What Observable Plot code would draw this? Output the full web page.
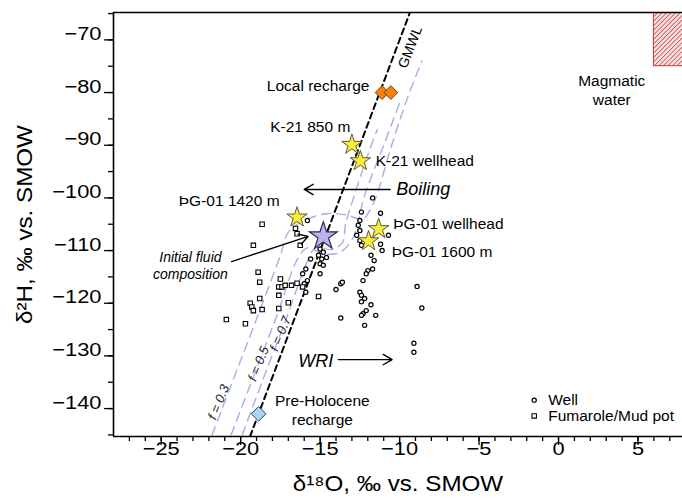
<!DOCTYPE html>
<html><head><meta charset="utf-8">
<script src="https://cdn.jsdelivr.net/npm/d3@7"></script>
<script src="https://cdn.jsdelivr.net/npm/@observablehq/plot@0.6"></script>
<style>
body{margin:0;background:#fff;}
#chart{width:682px;height:504px;}
svg text{font-family:"Liberation Sans",Arial,sans-serif;}
</style></head><body><div id="chart"></div>
<script>
// ---- data ----
const majorX = [-25, -20, -15, -10, -5, 0, 5];
const minorX = d3.range(-27, 8, 1);
const majorY = [-140, -130, -120, -110, -100, -90, -80, -70];
const minorY = d3.range(-145, -64, 5);

const wellO18 = [-15.0,-14.8,-15.1,-14.9,-14.6,-15.0,-14.8,-15.6,-15.9,-16.1,-15.0,-15.8,-16.0,-15.9,-14.0,-13.7,-13.6,-13.7,
  -12.5,-12.6,-12.5,-12.7,-12.5,-12.4,-11.8,-11.6,-11.7,-12.0,-12.1,-12.3,-12.5,-12.4,-12.2,-12.4,-11.8,-12.1,-12.3,-11.5,-12.2,
  -11.7,-12.4,-11.2,-10.7,-11.2,-11.1,-8.9,-8.6,-9.1,-9.1,-12.4,-15.8];
const wellH2 = [-109.7,-110.3,-110.9,-111.6,-111.3,-112.5,-112.8,-111.6,-113.5,-114.4,-114.4,-115.7,-116.3,-117.9,-117.4,-116.3,-116.0,-122.8,
  -104.3,-105.2,-106.2,-107.1,-108.1,-109.0,-110.9,-111.9,-113.5,-113.8,-114.4,-115.7,-117.9,-118.5,-119.1,-119.7,-120.3,-121.4,-122.0,-122.3,-124.2,
  -100.0,-102.7,-102.9,-107.1,-108.8,-110.0,-116.8,-120.9,-127.6,-129.3,-122.3,-104.3];

const fumO18 = [-18.65,-19.2,-16.25,-18.9,-18.8,-17.5,-17.6,-17.4,-17.2,-16.8,-16.45,-16.1,-18.8,-19.4,-19.3,-19.2,-18.65,-17.6,-17.0,-17.6,-20.9,-19.7,-15.1,-16.55,-16.45];
const fumH2 = [-105.0,-109.0,-109.0,-114.1,-116.0,-115.4,-116.9,-116.9,-116.6,-116.6,-116.2,-116.9,-119.1,-120.0,-120.7,-121.4,-121.2,-118.5,-119.9,-121.0,-123.1,-123.9,-118.7,-105.8,-106.8];

const starNames = ["K-21 850 m", "K-21 wellhead", "ÞG-01 1420 m", "ÞG-01 wellhead", "ÞG-01 1600 m"];
const starO18 = [-13.0, -12.47, -16.45, -11.32, -11.95];
const starH2 = [-89.9, -93.0, -103.7, -105.9, -108.2];

const initialO18 = [-14.8];
const initialH2 = [-107.3];

const localRechargeO18 = [-11.1, -10.55];
const localRechargeH2 = [-80.0, -80.0];
const preHoloceneO18 = [-18.87];
const preHoloceneH2 = [-141.0];

const gmwlO18 = [-19.41, -9.35];
const gmwlH2 = [-145.3, -64.8];

// model curves (f = steam fraction)
const f03O18 = [-21.8, -20.4, -19.0, -17.5, -17.0, -16.0, -14.6, -13.4, -12.3, -11.9, -11.5, -10.5, -9.5, -8.6];
const f03H2  = [-145.0, -134.0, -123.0, -110.9, -106.5, -104.3, -103.0, -103.2, -104.0, -102.5, -100.0, -90.0, -81.0, -74.0];
const f05O18 = [-20.6, -19.2, -17.8, -16.4, -15.8, -14.8, -13.8, -13.0, -12.6, -12.25, -11.0, -10.0];
const f05H2  = [-145.0, -134.0, -123.0, -111.5, -109.5, -110.6, -110.4, -108.0, -104.5, -100.0, -90.0, -82.0];
const f07O18 = [-19.9, -18.6, -17.2, -15.8, -15.3, -14.3, -13.6, -13.4, -12.9, -11.9, -11.4];
const f07H2  = [-145.0, -134.5, -123.5, -112.0, -109.5, -109.8, -108.5, -105.0, -100.0, -91.0, -87.0];

// ---- build tables ----
const wells = wellO18.map((x, i) => ({x, y: wellH2[i]}));
const fums = fumO18.map((x, i) => ({x, y: fumH2[i]}));
const stars = starO18.map((x, i) => ({x, y: starH2[i], name: starNames[i]}));
const toPts = (xs, ys, f) => xs.map((x, i) => ({x, y: ys[i], f}));
const curves = [...toPts(f03O18, f03H2, "0.3"), ...toPts(f05O18, f05H2, "0.5"), ...toPts(f07O18, f07H2, "0.7")];
const gmwl = toPts(gmwlO18, gmwlH2, "g");

const annFont = 15.5;
const labelsEnd = [
  {x: -11.9, y: -78.7, t: "Local recharge"},
  {x: -13.1, y: -86.6, t: starNames[0]},
  {x: -17.55, y: -100.5, t: starNames[2]}
];
const labelsStart = [
  {x: -11.5, y: -93.0, t: starNames[1]},
  {x: -10.4, y: -104.9, t: starNames[3]},
  {x: -10.5, y: -110.3, t: starNames[4]}
];
const labelsMiddle = [
  {x: -14.86, y: -140.2, t: "Pre-Holocene\nrecharge"},
  {x: 3.35, y: -79.4, t: "Magmatic\nwater"}
];
const fLabels = [
  {x: -21.38, y: -138.8, t: "f = 0.3"},
  {x: -18.87, y: -131.5, t: "f = 0.5"},
  {x: -17.5, y: -125.8, t: "f = 0.7"}
];

const chart = Plot.plot({
  width: 682, height: 504,
  marginLeft: 113, marginRight: 0, marginTop: 12, marginBottom: 68,
  x: {domain: [-28, 7.8]},
  y: {domain: [-145.3, -64.8]},
  style: {fontFamily: "Liberation Sans, Arial, sans-serif", background: "white", color: "black"},
  marks: [
    Plot.rect([{}], {x1: 6, x2: 10, y1: -75, y2: -60, fill: "url(#hatch)", stroke: "#b83a3a", strokeWidth: 1, clip: true}),
    Plot.line(curves, {x: "x", y: "y", z: "f", curve: "catmull-rom", stroke: "#a6aee6", strokeWidth: 1.4, strokeDasharray: "9,6", clip: true}),
    Plot.line(gmwl, {x: "x", y: "y", stroke: "black", strokeWidth: 2, strokeDasharray: "6,4", clip: true}),
    Plot.text(fLabels, {x: "x", y: "y", text: "t", rotate: -68, fontSize: 13, fontStyle: "italic", fill: "#222"}),
    Plot.text(["GMWL"], {x: [-9.33], y: [-71.4], rotate: -69, fontSize: 14}),
    Plot.dot(wells, {x: "x", y: "y", r: 2.1, fill: "white", stroke: "black", strokeWidth: 1.2}),
    Plot.dot(fums, {x: "x", y: "y", symbol: "square", r: 2.5, fill: "white", stroke: "black", strokeWidth: 1.1}),
    Plot.dot(localRechargeO18.map((x, i) => ({x, y: localRechargeH2[i]})), {x: "x", y: "y", symbol: "diamond2", r: 6.2, fill: "#f5820f", stroke: "#7a3d00", strokeWidth: 1}),
    Plot.dot(preHoloceneO18.map((x, i) => ({x, y: preHoloceneH2[i]})), {x: "x", y: "y", symbol: "diamond2", r: 6.6, fill: "#abd8ee", stroke: "#27465a", strokeWidth: 1}),
    Plot.dot(stars, {x: "x", y: "y", symbol: "star", r: 6.4, fill: "#f6ee3a", stroke: "#5d5a3a", strokeWidth: 1}),
    Plot.dot(initialO18.map((x, i) => ({x, y: initialH2[i]})), {x: "x", y: "y", symbol: "star", r: 8.8, fill: "#bab3f0", stroke: "#2d2b57", strokeWidth: 1.2}),
    Plot.arrow([{}], {x1: -10.6, y1: -98.4, x2: -16.0, y2: -98.4, stroke: "black", strokeWidth: 1.4, headLength: 11}),
    Plot.arrow([{}], {x1: -13.86, y1: -130.7, x2: -10.47, y2: -130.7, stroke: "black", strokeWidth: 1.4, headLength: 11}),
    Plot.arrow([{}], {x1: -20.57, y1: -112.1, x2: -15.75, y2: -107.3, stroke: "black", strokeWidth: 1.4, headLength: 11}),
    Plot.text(["Boiling"], {x: [-10.21], y: [-98.4], textAnchor: "start", fontSize: 18, fontStyle: "italic"}),
    Plot.text(["WRI"], {x: [-16.37], y: [-131.0], textAnchor: "start", fontSize: 18, fontStyle: "italic"}),
    Plot.text(["Initial fluid\ncomposition"], {x: [-23.16], y: [-112.8], textAnchor: "middle", fontSize: 14, fontStyle: "italic", lineHeight: 1.2}),
    Plot.text(labelsEnd, {x: "x", y: "y", text: "t", textAnchor: "end", fontSize: annFont}),
    Plot.text(labelsStart, {x: "x", y: "y", text: "t", textAnchor: "start", fontSize: annFont}),
    Plot.text(labelsMiddle, {x: "x", y: "y", text: "t", textAnchor: "middle", fontSize: annFont, lineHeight: 1.22}),
    // legend
    Plot.dot([{x: -1.53, y: -138.4}], {x: "x", y: "y", r: 2.1, fill: "white", stroke: "black", strokeWidth: 1.2}),
    Plot.dot([{x: -1.53, y: -141.4}], {x: "x", y: "y", symbol: "square", r: 2.5, fill: "white", stroke: "black", strokeWidth: 1.1}),
    Plot.text([{x: -0.65, y: -138.4, t: "Well"}, {x: -0.65, y: -141.4, t: "Fumarole/Mud pot"}], {x: "x", y: "y", text: "t", textAnchor: "start", fontSize: 15.5}),
    // axes
    Plot.axisX(minorX, {tickSize: 5, tickFormat: () => "", strokeWidth: 1.3, label: null}),
    Plot.axisX(majorX, {tickSize: 9, tickPadding: 9, fontSize: 18.5, strokeWidth: 1.3, label: null}),
    Plot.axisY(minorY, {tickSize: 5, tickFormat: () => "", strokeWidth: 1.3, label: null}),
    Plot.axisY(majorY, {tickSize: 9, tickPadding: 3, fontSize: 18.5, strokeWidth: 1.3, label: null}),
    Plot.ruleX([-28], {stroke: "black", strokeWidth: 1.6}),
    Plot.ruleY([-145.3], {stroke: "black", strokeWidth: 1.6}),
    Plot.ruleY([-64.8], {stroke: "black", strokeWidth: 1.6}),
    Plot.text(["δ¹⁸O, ‰ vs. SMOW"], {frameAnchor: "bottom", dy: 54, textAnchor: "middle", lineAnchor: "middle", fontSize: 22}),
    Plot.text(["δ²H, ‰ vs. SMOW"], {frameAnchor: "left", dx: -82, rotate: -90, textAnchor: "middle", lineAnchor: "middle", fontSize: 22})
  ]
});

// hatch pattern for magmatic water box
const svg = d3.select(chart);
const defs = svg.insert("defs", ":first-child");
const pat = defs.append("pattern").attr("id", "hatch").attr("patternUnits", "userSpaceOnUse")
  .attr("width", 3.2).attr("height", 3.2).attr("patternTransform", "rotate(45)");
pat.append("rect").attr("width", 3.2).attr("height", 3.2).attr("fill", "#f7e2e2");
pat.append("line").attr("x1", 0).attr("y1", 0).attr("x2", 0).attr("y2", 3.2).attr("stroke", "#d24848").attr("stroke-width", 1.6);

// wide axis lettering as in the reference
function stretch(el, k) {
  const x = +el.getAttribute("x") || 0, y = +el.getAttribute("y") || 0;
  const t = el.getAttribute("transform") || "";
  el.setAttribute("transform", `${t} translate(${x},${y}) scale(${k},1)`);
  el.removeAttribute("x"); el.removeAttribute("y");
}
svg.selectAll("text").each(function() {
  const s = this.textContent;
  if (/^[−-]?\d+$/.test(s)) stretch(this, 1.18);
  else if (s.includes("SMOW")) stretch(this, 1.1);
});

document.getElementById("chart").appendChild(chart);
</script>
</body></html>
